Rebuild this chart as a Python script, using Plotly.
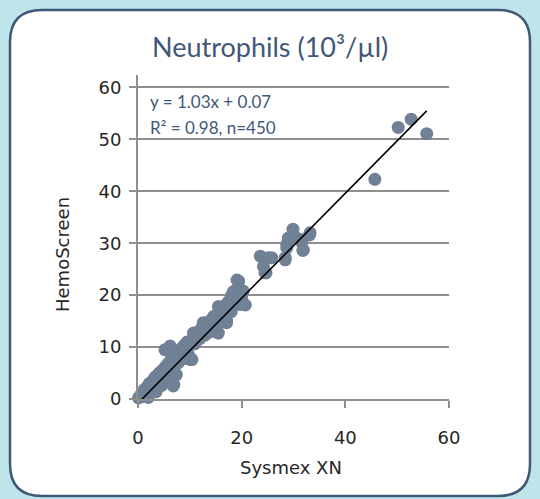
import plotly.graph_objects as go

# ---- data ----
sysmex_x = [
    0.1, 0.3, 0.6, 1.0, 1.2, 1.5, 1.8, 2.0, 2.2, 2.4, 2.7, 2.9, 3.1, 3.3, 3.5, 3.6, 3.8, 4.0, 4.2, 4.4, 4.6, 4.8, 5.0, 5.2, 5.4, 5.5,
    5.2, 5.9, 6.2, 5.8, 6.0, 6.3, 6.5, 6.6, 6.8, 6.9, 7.0, 7.2, 7.4, 7.5, 7.7, 7.9, 8.1, 8.3, 8.5, 8.7, 8.9, 9.1, 9.3, 9.5, 9.7, 9.9, 10.1, 10.4,
    10.3, 10.7, 10.9, 11.0, 11.3, 11.6, 11.9, 12.0, 12.3, 12.6, 12.6, 12.9, 13.2, 13.3, 13.5, 13.9, 14.1, 14.3, 14.6, 14.9, 14.9, 15.2, 15.2, 15.5, 15.5,
    15.9, 16.2, 16.0, 16.5, 16.8, 17.1, 17.1, 17.1, 17.5, 17.7, 18.1, 18.0, 18.4, 18.4, 18.7, 19.1, 19.4, 19.4, 19.7, 19.7, 20.0, 20.3, 20.7,
    23.6, 24.2, 24.5, 24.7, 25.2, 25.8, 28.4, 28.4, 28.7, 28.7, 29.0, 29.0, 29.9, 30.6, 31.3, 31.6, 31.9, 31.8, 33.1, 33.2,
    45.7, 50.2, 52.7, 55.7,
]
hemoscreen_y = [
    0.2, -0.3, 0.9, 0.5, 1.8, 1.2, 2.4, 0.3, 3.0, 1.6, 2.2, 3.6, 2.7, 4.2, 1.4, 3.1, 4.6, 3.6, 5.1, 4.0, 2.6, 5.6, 4.6, 6.1, 5.0, 3.6,
    9.5, 9.6, 10.2, 6.8, 5.6, 7.4, 8.6, 6.2, 2.5, 2.8, 7.9, 8.8, 4.7, 8.2, 6.9, 9.0, 7.5, 9.6, 8.3, 10.1, 7.8, 10.5, 9.2, 11.0, 8.6, 10.4, 7.6, 7.6,
    11.3, 12.7, 10.6, 12.4, 11.2, 12.9, 11.6, 12.7, 13.7, 14.7, 14.0, 12.3, 14.3, 14.7, 12.8, 13.0, 15.2, 14.9, 15.9, 15.3, 13.0, 13.4, 16.2, 12.7, 17.8,
    17.2, 17.5, 15.8, 16.6, 18.0, 18.2, 15.0, 14.7, 18.8, 17.4, 20.0, 16.8, 20.7, 20.4, 19.2, 22.9, 21.3, 22.7, 18.5, 18.2, 19.4, 20.8, 18.1,
    27.5, 25.5, 24.3, 24.3, 27.2, 27.2, 26.8, 27.2, 29.1, 29.7, 30.7, 31.0, 32.7, 31.0, 30.7, 30.2, 28.7, 28.6, 31.6, 32.0,
    42.3, 52.3, 53.9, 51.1,
]
fit_x = [0.4, 55.7]
fit_y = [-0.4, 55.5]

tick_vals_x = [0, 20, 40, 60]
tick_vals_y = [0, 10, 20, 30, 40, 50, 60]

title_text = "Neutrophils (10³/µl)"
eq_lines = ["y = 1.03x + 0.07", "R² = 0.98, n=450"]
x_title = "Sysmex XN"
y_title = "HemoScreen"

# ---- styling ----
W, H = 540, 499
ML, MR, MT, MB = 138, 91, 75, 100
PW, PH = W - ML - MR, H - MT - MB
DARK = "#3f5878"
DOT = "#708196"
GRID = "#8e8e8e"
BG = "#bfe4ea"
TFONT = "Lato"
AFONT = "DejaVu Sans"
TXT = "#262626"


def px(xp):
    return (xp - ML) / PW


def py(yp):
    return 1 - (yp - MT) / PH


fig = go.Figure()
fig.add_trace(go.Scatter(
    x=sysmex_x, y=hemoscreen_y, mode="markers",
    marker=dict(size=13, color=DOT, line=dict(width=0)),
    cliponaxis=False, showlegend=False, hoverinfo="skip",
))
fig.add_trace(go.Scatter(
    x=fit_x, y=fit_y, mode="lines",
    line=dict(color="black", width=1.6),
    cliponaxis=False, showlegend=False, hoverinfo="skip",
))

# rounded white card
x0, x1, y0, y1, r = 10, 530, 10, 496, 32
path = (
    f"M {px(x0 + r)} {py(y0)} L {px(x1 - r)} {py(y0)} "
    f"Q {px(x1)} {py(y0)} {px(x1)} {py(y0 + r)} "
    f"L {px(x1)} {py(y1 - r)} Q {px(x1)} {py(y1)} {px(x1 - r)} {py(y1)} "
    f"L {px(x0 + r)} {py(y1)} Q {px(x0)} {py(y1)} {px(x0)} {py(y1 - r)} "
    f"L {px(x0)} {py(y0 + r)} Q {px(x0)} {py(y0)} {px(x0 + r)} {py(y0)} Z"
)
fig.add_shape(type="path", path=path, xref="paper", yref="paper",
              fillcolor="white", line=dict(color=DARK, width=2.5), layer="below")

annos = [
    dict(text=title_text, x=px(270), y=py(46), font=dict(size=27, color=DARK, family=TFONT)),
    dict(text=x_title, x=px(291), y=py(467), font=dict(size=18, color=TXT, family=AFONT)),
    dict(text=y_title, x=px(62), y=py(255), textangle=-90, font=dict(size=18, color=TXT, family=AFONT)),
    dict(text=eq_lines[0], x=px(148), y=py(101), xanchor="left", font=dict(size=17, color=DARK, family=TFONT)),
    dict(text=eq_lines[1], x=px(148), y=py(127), xanchor="left", font=dict(size=17, color=DARK, family=TFONT)),
]
for a in annos:
    a.setdefault("xanchor", "center")
    fig.add_annotation(xref="paper", yref="paper", yanchor="middle", showarrow=False, **a)

fig.update_layout(
    width=W, height=H,
    margin=dict(l=ML, r=MR, t=MT, b=MB, pad=0),
    paper_bgcolor=BG, plot_bgcolor="rgba(0,0,0,0)",
    font=dict(family=AFONT, color=TXT),
)
fig.update_xaxes(
    range=[0, 60], tickvals=tick_vals_x, showgrid=False, zeroline=False,
    showline=True, linecolor=GRID, linewidth=2,
    ticks="outside", ticklen=7, tickwidth=2, tickcolor=GRID,
    tickfont=dict(size=18, color=TXT, family=AFONT), ticklabelstandoff=14,
)
fig.update_yaxes(
    range=[0, 62.4], tickvals=tick_vals_y, showgrid=True, gridcolor=GRID, gridwidth=2,
    zeroline=False, showline=True, linecolor=GRID, linewidth=2,
    ticks="outside", ticklen=7, tickwidth=2, tickcolor=GRID,
    tickfont=dict(size=18, color=TXT, family=AFONT), ticklabelstandoff=4,
)

fig.write_html(
    "out.html",
    config={"displayModeBar": False},
    post_script=f"document.body.style.margin='0';document.body.style.background='{BG}';",
)
